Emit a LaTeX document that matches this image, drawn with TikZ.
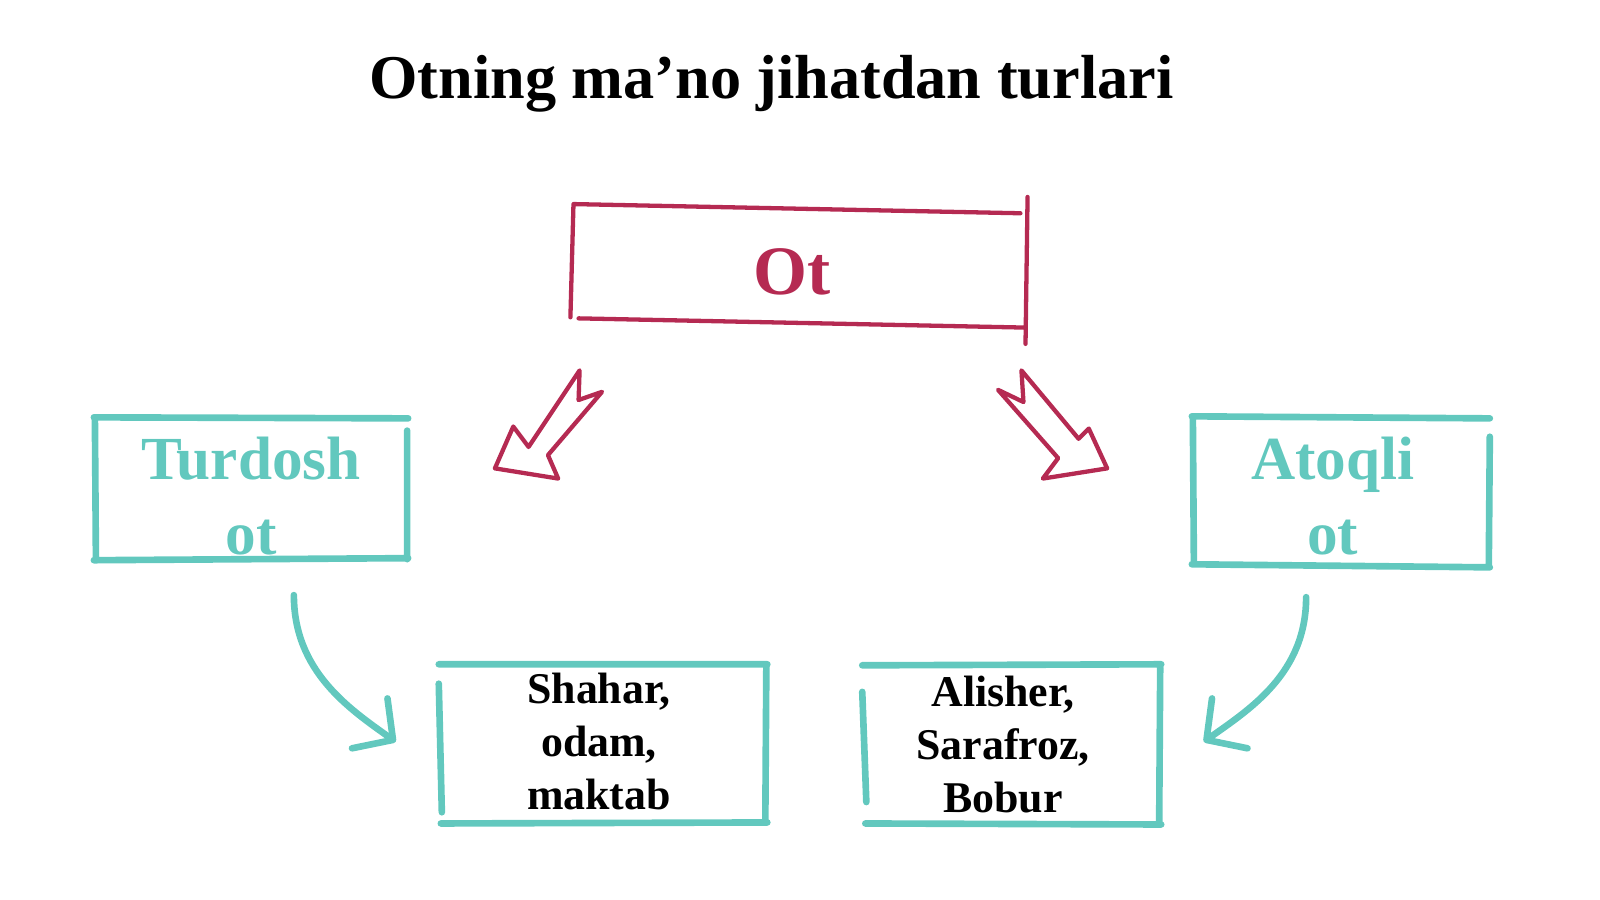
\documentclass[tikz,border=0pt]{standalone}
\usepackage{fontspec}
\setmainfont{Liberation Serif}
\usetikzlibrary{arrows.meta}
\definecolor{otred}{HTML}{B52A52}
\definecolor{otteal}{HTML}{62C8BE}
\newcommand\titlefont{\bfseries\fontsize{61}{70}\selectfont}
\newcommand\topfont{\bfseries\fontsize{68}{80}\selectfont}
\newcommand\kindfont{\bfseries\fontsize{60}{73}\selectfont}
\newcommand\examplefont{\bfseries\fontsize{43}{52}\selectfont}

\tikzset{
	redline/.style = {draw = otred, line width = 4.2pt, line cap = round, line join = round},
	tealline/.style = {draw = otteal, line width = 6.5pt, line cap = round, line join = round},
	box/.style = {inner sep = 0pt, align = center},
	bend arrow/.style = {tealline, -{Straight Barb[length = 28pt, width = 60pt, round]}}
}

\begin{document}
\begin{tikzpicture}[x = 1pt, y = -1pt]
	\useasboundingbox (0, 0) rectangle (1568, 882);

	% Titel
	\node [anchor = base, font = \titlefont] (title) at (756, 97) {Otning ma’no jihatdan turlari};

	% Kaesten
	\node [box, text = otred, font = \topfont, minimum width = 445pt, minimum height = 120pt] (ot) at (776, 266) {Ot};
	\node [box, text = otteal, font = \kindfont, minimum width = 308pt, minimum height = 142pt] (turdosh) at (246, 486) {Turdosh\\ot};
	\node [box, text = otteal, font = \kindfont, minimum width = 292pt, minimum height = 148pt] (atoqli) at (1306, 486) {Atoqli\\ot};
	\node [box, font = \examplefont, minimum width = 322pt, minimum height = 158pt] (shahar) at (587, 727) {Shahar,\\odam,\\maktab};
	\node [box, font = \examplefont, minimum width = 293pt, minimum height = 160pt] (alisher) at (983, 730) {Alisher,\\Sarafroz,\\Bobur};

	% Rahmen, von Hand gezogen
	\draw [redline] (562, 200) -- (1000, 209) (1007, 193) -- (1005, 337) (567, 312) -- (1003, 321) (562, 200) -- (559, 311);
	\draw [tealline] (92, 409) -- (400, 410) (399, 422) -- (399, 548) (92, 549) -- (400, 547) (93, 410) -- (94, 549);
	\draw [tealline] (1168, 408) -- (1460, 410) (1460, 428) -- (1459, 555) (1168, 553) -- (1460, 556) (1169, 410) -- (1170, 553);
	\draw [tealline] (430, 651) -- (752, 651) (751, 654) -- (750, 806) (432, 807) -- (752, 806) (430, 670) -- (433, 796);
	\draw [tealline] (845, 652) -- (1138, 651) (1137, 654) -- (1136, 806) (848, 807) -- (1138, 808) (845, 678) -- (849, 786);

	% Hohlpfeile
	\draw [redline] (485, 459) -- (503, 418) -- (518, 438) -- (568, 363) -- (567, 392) -- (590, 384)
		-- (537, 446) -- (547, 469) -- cycle;
	\draw [redline] (978, 382) -- (1003, 394) -- (1001, 363) -- (1057, 430) -- (1067, 420) -- (1085, 459)
		-- (1022, 469) -- (1037, 449) -- cycle;

	% Bogenpfeile
	\draw [bend arrow] ([shift = {(42, 26)}]turdosh.south) .. controls +(0, 75) and +(-45, -32) .. ([shift = {(-38, 0)}]shahar.west);
	\draw [bend arrow] ([shift = {(-26, 25)}]atoqli.south) .. controls +(0, 75) and +(45, -32) .. ([shift = {(50, -3)}]alisher.east);
\end{tikzpicture}
\end{document}
